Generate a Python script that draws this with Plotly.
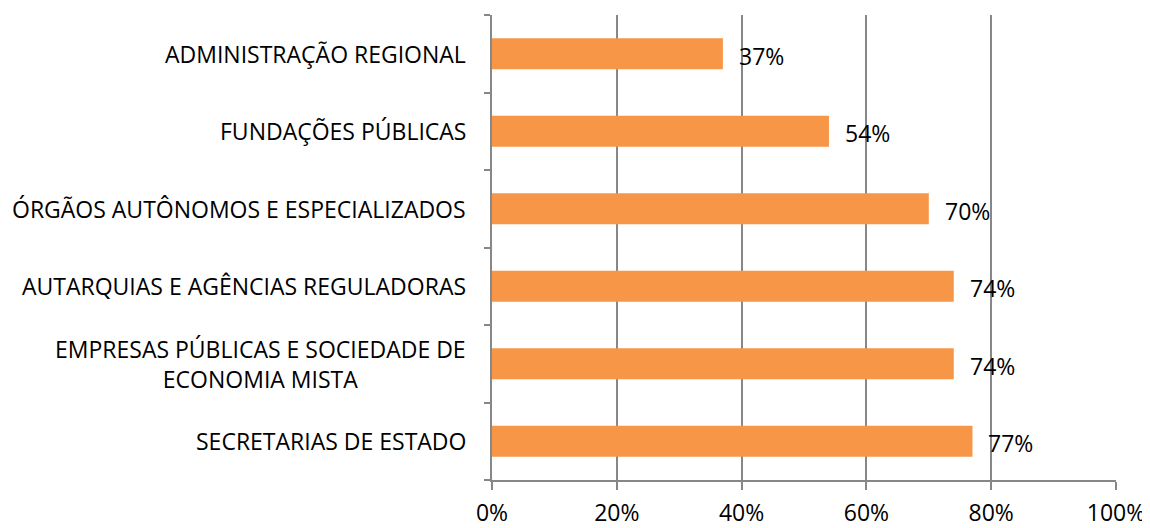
import plotly.graph_objects as go

categories = [
    "SECRETARIAS DE ESTADO",
    "EMPRESAS PÚBLICAS E SOCIEDADE DE<br>ECONOMIA MISTA",
    "AUTARQUIAS E AGÊNCIAS REGULADORAS",
    "ÓRGÃOS AUTÔNOMOS E ESPECIALIZADOS",
    "FUNDAÇÕES PÚBLICAS",
    "ADMINISTRAÇÃO REGIONAL",
]
values = [77, 74, 74, 70, 54, 37]
value_labels = ["77%", "74%", "74%", "70%", "54%", "37%"]
x_ticks = [0, 20, 40, 60, 80, 100]
x_ticklabels = ["0%", "20%", "40%", "60%", "80%", "100%"]

FONT = "Open Sans"
FS = 23
pos = list(range(len(categories)))

fig = go.Figure()
fig.add_trace(go.Bar(
    x=values, y=pos, orientation="h",
    marker=dict(color="#F79646", line=dict(width=0)),
    width=0.4, hoverinfo="skip",
))

annotations = []
for p, c in zip(pos, categories):
    annotations.append(dict(
        x=0, xref="paper", y=p, yref="y", text=c, showarrow=False,
        xanchor="right", yanchor="middle", align="center", xshift=-24,
        font=dict(family=FONT, size=FS, color="#000000"),
    ))
for p, v, t in zip(pos, values, value_labels):
    annotations.append(dict(
        x=v, xref="x", y=p, yref="y", text=t, showarrow=False,
        xanchor="left", yanchor="middle", xshift=14, yshift=-2,
        font=dict(family=FONT, size=FS, color="#000000"),
    ))

fig.update_layout(
    width=1150, height=528,
    margin=dict(l=484, r=42, t=7, b=56),
    plot_bgcolor="white", paper_bgcolor="white",
    showlegend=False,
    annotations=annotations,
    xaxis=dict(
        range=[0, 100], tickvals=x_ticks, ticktext=x_ticklabels,
        showgrid=True, gridcolor="#878787", gridwidth=1.5,
        showline=True, linecolor="#878787", linewidth=1.5,
        ticks="outside", ticklen=8, tickcolor="#878787", tickwidth=1.5,
        ticklabelstandoff=4,
        tickfont=dict(family=FONT, size=FS, color="#000000"),
        zeroline=False, fixedrange=True,
    ),
    yaxis=dict(
        range=[-0.5, 5.5],
        tickvals=[i - 0.5 for i in range(len(categories) + 1)],
        showticklabels=False,
        showgrid=False, zeroline=False,
        showline=True, linecolor="#878787", linewidth=1.5,
        ticks="outside", ticklen=6, tickcolor="#878787", tickwidth=1.5,
        fixedrange=True,
    ),
)

fig.write_html("out.html")
